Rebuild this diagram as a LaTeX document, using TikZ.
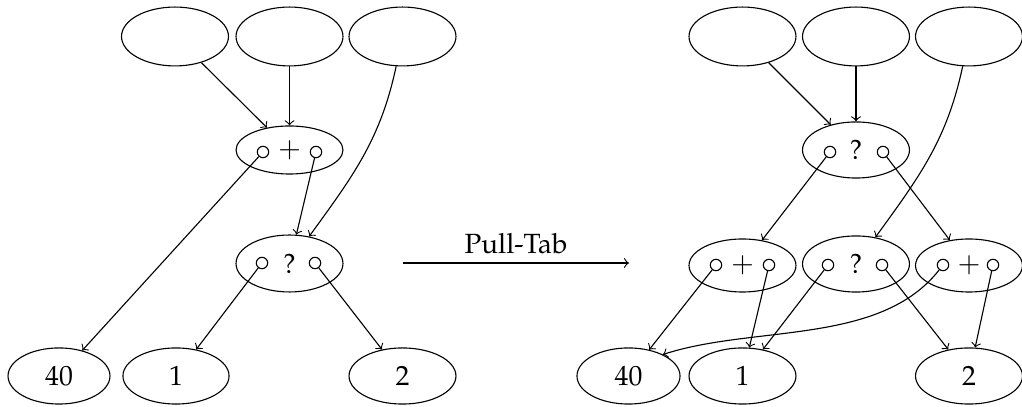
\documentclass[tikz,border=0pt]{standalone}
\usepackage[T1]{fontenc}
\usepackage{mathpazo}
\usetikzlibrary{shapes.geometric}
\begin{document}
\begin{tikzpicture}[x=0.36pt,y=-0.36pt,
  every path/.style={thin},
  ell/.style={draw, ellipse, inner sep=0pt, minimum width=38.5pt, minimum height=20.2pt},
  topell/.style={ell, minimum height=21.2pt},
  port/.style={draw, circle, inner sep=0pt, minimum size=4.1pt},
  arr/.style={->}]
\useasboundingbox (0,0) rectangle (1022,407);
% ---------- left ----------
\node[topell] (t1) at (175,36.5) {};
\node[topell] (t2) at (289.5,36.5) {};
\node[topell] (t3) at (402.5,36.5) {};
\node[ell, minimum height=17.3pt] (p1) at (289.5,150) {$+$};
\node[port] (p1a) at (263,152) {};
\node[port] (p1b) at (316,152) {};
\node[ell, minimum height=20.5pt] (q1) at (289.5,263.5) {?};
\node[port] (q1a) at (262,263) {};
\node[port] (q1b) at (315,263) {};
\node[ell, minimum width=36.7pt] (b40) at (59,376) {40};
\node[ell, minimum width=38.2pt] (b1) at (176,376) {1};
\node[ell] (b2) at (402.5,376) {2};
\draw[arr] (t1) -- (p1);
\draw[arr] (t2) -- (p1);
\draw[arr] (t3) to[out=-102, in=54] (q1);
\draw[arr] (p1a) -- (b40);
\draw[arr] (p1b) -- (q1);
\draw[arr] (q1a) -- (b1);
\draw[arr] (q1b) -- (b2);
% ---------- pull-tab ----------
\coordinate (pa) at (403,263);
\coordinate (pb) at (629,263);
\draw[arr] (pa) -- node[above] (lbl) {Pull-Tab} (pb);
% ---------- right ----------
\node[topell] (T1) at (742.5,36.5) {};
\node[topell] (T2) at (856,36.5) {};
\node[topell] (T3) at (969,36.5) {};
\node[ell] (Q0) at (856,150) {?};
\node[port] (Q0a) at (830,152) {};
\node[port] (Q0b) at (883,152) {};
\node[ell, minimum height=19.1pt] (P1) at (742.5,265.5) {$+$};
\node[port] (P1a) at (716,265) {};
\node[port] (P1b) at (769,265) {};
\node[ell] (Q1) at (856,264) {?};
\node[port] (Q1a) at (828,265) {};
\node[port] (Q1b) at (882,265) {};
\node[ell, minimum height=19.1pt] (P2) at (969,265.5) {$+$};
\node[port] (P2a) at (943,265) {};
\node[port] (P2b) at (993,265) {};
\node[ell, minimum width=37.1pt] (B40) at (628.5,376) {40};
\node[ell] (B1) at (742.5,376) {1};
\node[ell] (B2) at (969,376) {2};
\draw[arr] (T1) -- (Q0);
\draw[arr] (T2) -- (Q0);
\draw[arr] (T3) to[out=-102, in=54] (Q1);
\draw[arr] (Q0a) -- (P1);
\draw[arr] (Q0b) -- (P2);
\draw[arr] (P1a) -- (B40);
\draw[arr] (P1b) -- (B1);
\draw[arr] (Q1a) -- (B1);
\draw[arr] (Q1b) -- (B2);
\draw[arr] (P2a) to[out=-128, in=18, looseness=0.85] (B40.32);
\draw[arr] (P2b) -- (B2);
\end{tikzpicture}
\end{document}
